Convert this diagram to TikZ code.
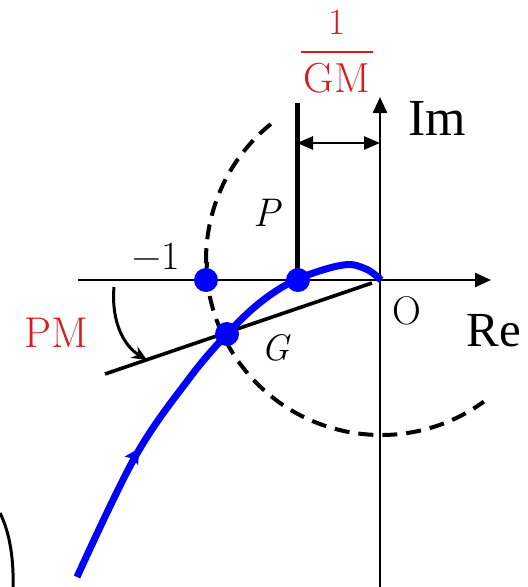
\documentclass[tikz,border=0pt]{standalone}
\usepackage{fontspec}
\newfontfamily\timesf{Liberation Serif}
\usetikzlibrary{arrows.meta}
\definecolor{pmred}{RGB}{214,28,28}
\definecolor{nyqblue}{RGB}{0,0,255}
\tikzset{
  axis/.style={line width=2.4pt,-{Triangle[length=16pt,width=14pt]}},
  lbl/.style={inner sep=0pt,font=\fontsize{40}{48}\selectfont},
  dotb/.style={circle,fill=nyqblue,inner sep=0pt,minimum size=24pt},
}
\begin{document}
\begin{tikzpicture}[x=1pt,y=-1pt]
\useasboundingbox (0,0) rectangle (528,587);
% coordinates
\coordinate (O) at (380,280);
\coordinate (ReL) at (78,280);
\coordinate (ReR) at (491,280);
\coordinate (ImB) at (380,590);
\coordinate (ImT) at (380,97);
% unit circle (dashed)
\draw[line width=4pt,dash pattern=on 15pt off 9pt] (381,260) ++(-129:175) arc[start angle=-129,end angle=-306,radius=175];
\draw[line width=4pt] (207,262) -- (206,280);
% axes
\draw[axis] (ReL) -- (ReR);
\draw[axis] (ImB) -- (ImT);
% 1/GM line
\coordinate (Pt) at (297,103);
\coordinate (P0) at (297,280);
\draw[line width=5pt] (Pt) -- (P0);
\coordinate (gmA) at (297,143);
\coordinate (gmB) at (380,143);
\draw[line width=2.6pt,{Triangle[length=16pt,width=13pt]}-{Triangle[length=16pt,width=13pt]}] (gmA) -- (gmB);
% PM line
\coordinate (L1) at (105,374);
\coordinate (L2) at (372,283);
\draw[line width=3.6pt] (L1) -- (L2);
% PM arc arrow
\coordinate (A1) at (114,287);
\coordinate (A2) at (147,360);
\draw[line width=3pt,-{Stealth[length=15pt,width=13pt]}] (A1) .. controls (111,322) and (124,346) .. (A2);
% Nyquist curve
\draw[nyqblue,line width=7pt]
  plot[smooth,tension=0.6] coordinates {(77,577) (135,457) (188,380) (227,334) (262,301) (298,279) (343,265) (366,269) (381,280)};
\coordinate (arr) at (135,455);
\fill[nyqblue,shift={(arr)},rotate=58] (8pt,0) -- (-7pt,8pt) -- (-4pt,0) -- (-7pt,-8pt) -- cycle;
% dots
\node[dotb] (m1) at (206,280) {};
\node[dotb] (pp) at (298,280) {};
\node[dotb] (gg) at (227,334) {};
% partial curve bottom-left
\draw[line width=3pt] (0,513) .. controls (10,533) and (14,560) .. (13,590);
% labels
\node[lbl,font=\timesf\fontsize{52}{60}\selectfont] (im) at (437,118) {Im};
\node[lbl,font=\timesf\fontsize{49}{56}\selectfont] (re) at (494,331) {Re};
\node[lbl] (o) at (407,311) {O};
\node[lbl] (mone) at (156,256) {−1};
\node[lbl,text=pmred,font=\fontsize{43}{50}\selectfont] (pm) at (56,333) {PM};
\node[lbl,font=\itshape\fontsize{37}{44}\selectfont] (g) at (276,348) {G};
\node[lbl,font=\itshape\fontsize{40}{48}\selectfont] (p) at (267,213) {P};
\node[lbl,text=pmred,font=\fontsize{37}{44}\selectfont] (gmnum) at (337,22) {1};
\node[lbl,text=pmred,font=\fontsize{42}{50}\selectfont] (gmden) at (337,78) {GM};
\coordinate (barL) at (301,52);
\coordinate (barR) at (373,52);
\draw[pmred,line width=2.6pt] (barL) -- (barR);
\end{tikzpicture}
\end{document}
